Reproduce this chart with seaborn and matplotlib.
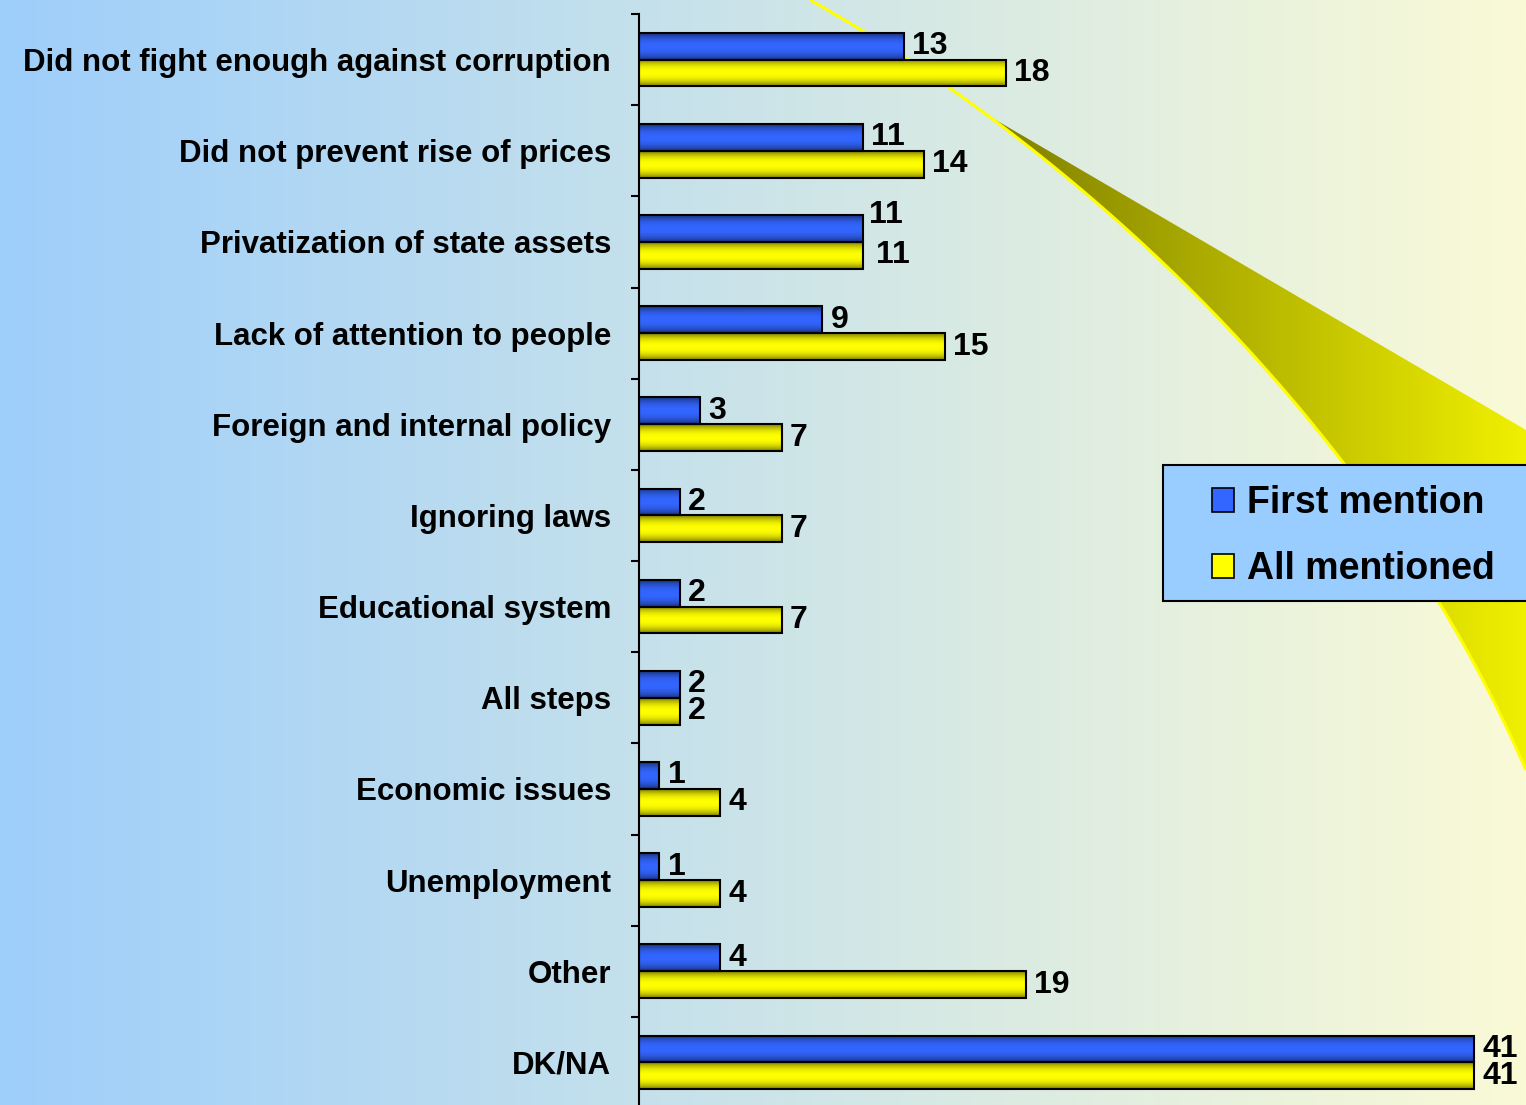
import numpy as np
import pandas as pd
import matplotlib
matplotlib.use("Agg")
import matplotlib.pyplot as plt
import seaborn as sns
from matplotlib.patches import Rectangle, Patch, Polygon

# ---------------- data ----------------
categories = [
    "Did not fight enough against corruption",
    "Did not prevent rise of prices",
    "Privatization of state assets",
    "Lack of attention to people",
    "Foreign and internal policy",
    "Ignoring laws",
    "Educational system",
    "All steps",
    "Economic issues",
    "Unemployment",
    "Other",
    "DK/NA",
]
first_mention = [13, 11, 11, 9, 3, 2, 2, 2, 1, 1, 4, 41]
all_mentioned = [18, 14, 11, 15, 7, 7, 7, 2, 4, 4, 19, 41]
series_names = ["First mention", "All mentioned"]
series_colors = ["#3366FF", "#FFFF00"]

df = pd.DataFrame({
    "category": categories * 2,
    "value": first_mention + all_mentioned,
    "series": [series_names[0]] * len(categories) + [series_names[1]] * len(categories),
})

# ---------------- style ----------------
sns.set_theme(style="white")
plt.rcParams["font.family"] = ["Liberation Sans", "DejaVu Sans"]
plt.rcParams["text.color"] = "black"

W, H = 1526, 1105
fig = plt.figure(figsize=(W / 100, H / 100), dpi=100)

# background axes (pixel coordinates)
bg = fig.add_axes([0, 0, 1, 1], zorder=0)
bg.set_xlim(0, W)
bg.set_ylim(H, 0)
bg.axis("off")
g = np.linspace(0, 1, 600)
c_left = np.array([158, 206, 251]) / 255
c_right = np.array([250, 250, 214]) / 255
bg_img = c_left[None, :] * (1 - g[:, None]) + c_right[None, :] * g[:, None]
bg.imshow(bg_img[None, :, :], extent=(0, W, H, 0), aspect="auto", zorder=0)

# decorative swoosh
t = np.linspace(0, 1, 200)
P0, P1, P2, P3 = np.array([810, 0]), np.array([1060, 140]), np.array([1370, 410]), np.array([1526, 770])
curve = ((1 - t) ** 3)[:, None] * P0 + (3 * (1 - t) ** 2 * t)[:, None] * P1 \
    + (3 * (1 - t) * t ** 2)[:, None] * P2 + (t ** 3)[:, None] * P3
i0 = np.argmax(curve[:, 0] >= 985)
poly_pts = np.vstack([curve[i0:], [[1526, 430]]])
sw = Polygon(poly_pts, closed=True, facecolor="none", edgecolor="none", zorder=1)
bg.add_patch(sw)
sg = np.linspace(0, 1, 300)
c0 = np.array([125, 125, 0]) / 255
c1 = np.array([240, 240, 0]) / 255
sw_img = c0[None, :] * (1 - sg[:, None]) + c1[None, :] * sg[:, None]
im = bg.imshow(sw_img[None, :, :], extent=(985, W, H, 0), aspect="auto", zorder=1)
im.set_clip_path(sw)
bg.plot(curve[:, 0], curve[:, 1], color="#FFFF00", lw=2.2, zorder=2, solid_capstyle="butt")
bg.set_xlim(0, W)
bg.set_ylim(H, 0)

# legend box
bg.add_patch(Rectangle((1163, 465), 380, 136, facecolor="#99CCFF",
                       edgecolor="black", lw=1.5, zorder=5))

# ---------------- main axes ----------------
ax = fig.add_axes([639 / W, (H - 1108) / H, (W - 639) / W, 1094 / H], zorder=1)
ax.patch.set_alpha(0)

sns.barplot(data=df, y="category", x="value", hue="series", order=categories,
            hue_order=series_names, palette=series_colors, orient="h",
            width=0.59, saturation=1, edgecolor="black", linewidth=1.5,
            legend=False, ax=ax)

# shading gradient on bars
tt = np.linspace(0, 1, 40)
prof = 1 - 0.5 * np.abs(2 * tt - 1) ** 2.2
for cont, col in zip(ax.containers, series_colors):
    base = np.array(matplotlib.colors.to_rgb(col))
    shade = prof[:, None] * base[None, :]
    shade_img = np.repeat(shade[:, None, :], 2, axis=1)
    for bar in cont:
        x0, y0 = bar.get_x(), bar.get_y()
        w, h = bar.get_width(), bar.get_height()
        bim = ax.imshow(shade_img, extent=(x0, x0 + w, y0 + h, y0),
                        aspect="auto", zorder=2, interpolation="bilinear")
        bim.set_clip_path(bar)
        bar.set_facecolor("none")
        bar.set_zorder(3)

label_sets = []
for cont in ax.containers:
    texts = ax.bar_label(cont, padding=6, fontsize=23, fontweight="bold",
                         family=["Liberation Sans Narrow", "Liberation Sans", "DejaVu Sans"],
                         color="black")
    label_sets.append(texts)

# in the reference the first-mention label of the equal pair at row 3 sits higher
k = categories.index("Privatization of state assets")
label_sets[0][k].xyann = (4, 10)
label_sets[1][k].xyann = (9, 0)

ax.set_xlim(0, 43.55)
ax.set_ylim(11.5, -0.5)
ax.set_xlabel("")
ax.set_ylabel("")
ax.set_xticks([])
ax.set_yticks(range(len(categories)))
ax.set_yticklabels(categories, fontsize=22.5, fontweight="bold", color="black")
ax.set_yticks(np.arange(-0.5, len(categories), 1), minor=True)
ax.tick_params(axis="y", which="major", length=0, pad=20)
ax.tick_params(axis="y", which="minor", length=6, width=1.5, direction="out",
               color="black", left=True)
for s in ["top", "right", "bottom"]:
    ax.spines[s].set_visible(False)
ax.spines["left"].set_color("black")
ax.spines["left"].set_linewidth(1.5)

handles = [Patch(facecolor=c, edgecolor="black", linewidth=1.2) for c in series_colors]
leg = ax.legend(handles, series_names, loc="center left",
                bbox_to_anchor=(1212 / W, 1 - 536 / H), bbox_transform=fig.transFigure,
                frameon=False, prop={"weight": "bold", "size": 27},
                handlelength=0.59, handleheight=0.59, handletextpad=0.35,
                labelspacing=0.8, borderpad=0, borderaxespad=0)
for txt in leg.get_texts():
    txt.set_color("black")

fig.savefig("out.png", dpi=100)
